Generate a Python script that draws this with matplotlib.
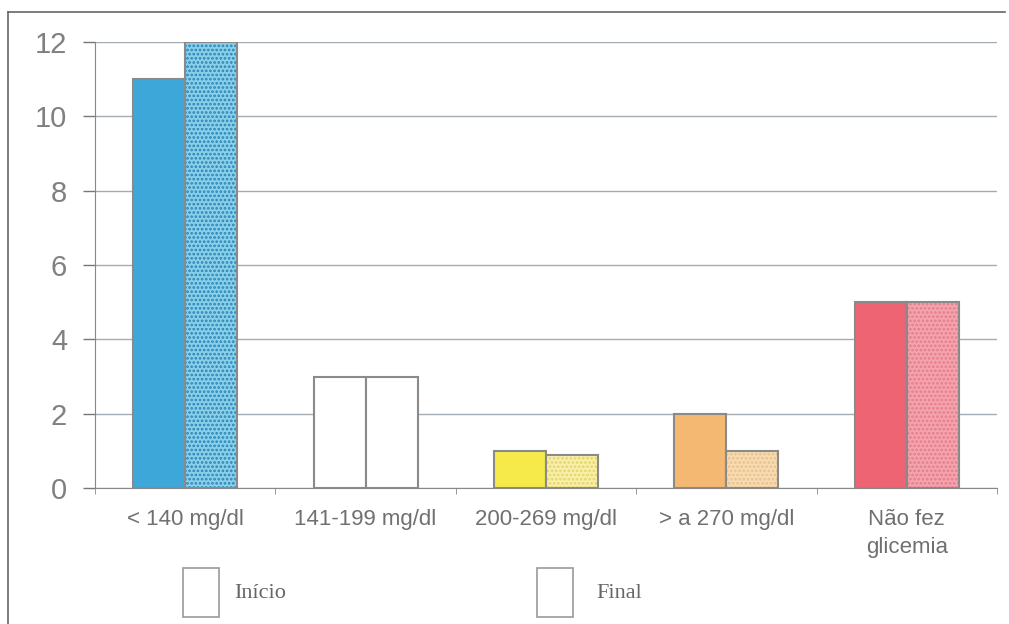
import matplotlib.pyplot as plt
import numpy as np
from matplotlib.patches import Rectangle
from matplotlib.lines import Line2D

plt.rcParams['font.family'] = ['Liberation Sans', 'DejaVu Sans']
plt.rcParams['hatch.linewidth'] = 1.3

categories = ['< 140 mg/dl', '141-199 mg/dl', '200-269 mg/dl', '> a 270 mg/dl', 'Não fez\nglicemia']
inicio = [11, 3, 1, 2, 5]
final = [12, 3, 0.9, 1, 5]
y_ticks = [0, 2, 4, 6, 8, 10, 12]

inicio_colors = ['#3ea7d9', '#ffffff', '#f6ea4a', '#f4b872', '#ef6472']
final_colors = ['#8ad0ea', '#ffffff', '#f8f0a8', '#f8dcb0', '#f5a3ad']
hatch_colors = ['#2a84b5', '#ffffff', '#e6d46a', '#e6c193', '#e37d8e']

fig = plt.figure(figsize=(10.09, 6.24), dpi=100)
ax = fig.add_axes([95 / 1009, 1 - 488 / 624, 902 / 1009, 446 / 624])

x = np.arange(len(categories))
w = 0.288
edge = '#8a8a8a'

ax.bar(x - w / 2, inicio, w, color=inicio_colors, edgecolor=edge, linewidth=1.5, zorder=3)
for xi, v, fc, hc in zip(x, final, final_colors, hatch_colors):
    ax.bar(xi + w / 2, v, w, color=fc, edgecolor=hc, hatch='....', linewidth=0, zorder=3)
    ax.bar(xi + w / 2, v, w, fill=False, edgecolor=edge, linewidth=1.5, zorder=4)

ax.set_xlim(-0.5, len(categories) - 0.5)
ax.set_ylim(0, 12)
ax.set_yticks(y_ticks)
ax.set_yticklabels([str(t) for t in y_ticks], fontsize=21, color='#808080')
ax.tick_params(axis='y', length=9, width=1, color='#777777', pad=11)
ax.grid(axis='y', color='#a4acb3', linewidth=1.0, zorder=0)

ax.set_xticks(x)
ax.set_xticklabels(categories, fontsize=16, color='#707070', va='top', linespacing=1.45)
ax.tick_params(axis='x', length=0, pad=15)
ax.set_xticks(np.arange(len(categories) + 1) - 0.5, minor=True)
ax.tick_params(axis='x', which='minor', length=4, color='#888888')

for s in ['top', 'right']:
    ax.spines[s].set_visible(False)
ax.spines['left'].set_color('#888888')
ax.spines['bottom'].set_color('#888888')

# outer frame
fig.add_artist(Line2D([8 / 1009, 8 / 1009], [0, 1 - 12 / 624], transform=fig.transFigure,
                      color='#666666', linewidth=1.2))
fig.add_artist(Line2D([8 / 1009, 1005 / 1009], [1 - 12 / 624, 1 - 12 / 624], transform=fig.transFigure,
                      color='#666666', linewidth=1.2))

# legend boxes
for bx, tx, label in [(183, 234, 'Início'), (537, 596, 'Final')]:
    fig.add_artist(Rectangle((bx / 1009, 1 - 617 / 624), 36 / 1009, 49 / 624,
                             transform=fig.transFigure, fill=False, edgecolor='#999999', linewidth=1.2))
    fig.text(tx / 1009, 1 - 593 / 624, label, family=['Liberation Serif', 'DejaVu Serif'],
             fontsize=16, color='#666666', va='center', ha='left')

fig.savefig('out.png', dpi=100)
